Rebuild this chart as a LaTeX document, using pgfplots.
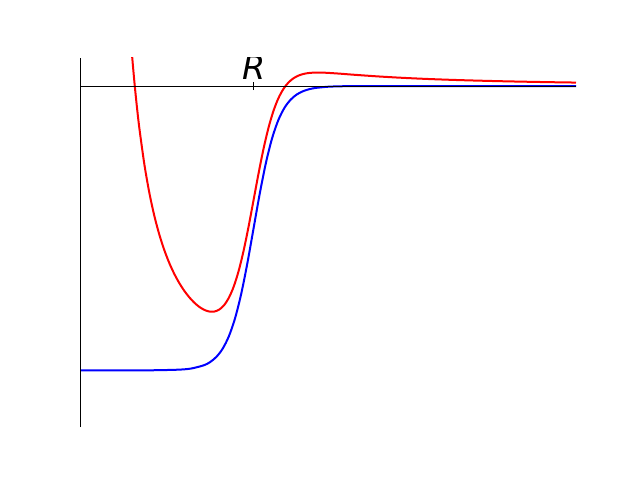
\documentclass[border=0pt]{standalone}
\usepackage{pgfplots}
\pgfplotsset{compat=1.18}
\usepackage{fontspec}
\newfontfamily\dejavu{DejaVu Sans}
\begin{document}
\begin{tikzpicture}
\useasboundingbox (0,0) rectangle (480pt,360pt);
\begin{axis}[
  at={(60pt,39.6pt)}, anchor=south west,
  scale only axis, width=372pt, height=277.2pt,
  xmin=0, xmax=10, ymin=-1.2, ymax=0.1,
  axis x line=middle, axis y line=left,
  axis line style={-, line width=0.6pt, black},
  axis on top,
  xtick={3.5}, xticklabels={}, xtick align=center,
  major tick length=6pt,
  every tick/.style={black, line width=0.6pt},
  ytick=\empty,
  clip=true,
]
\addplot[blue, line width=1.5pt, smooth] coordinates {
(0,-1) (0.5,-1) (1,-0.99995) (1.5,-0.99966) (2.0,-0.99753) (2.25,-0.99331)
(2.5,-0.98201) (2.625,-0.97070) (2.75,-0.95257) (2.875,-0.92414) (3.0,-0.88080)
(3.125,-0.81757) (3.25,-0.73106) (3.375,-0.62246) (3.5,-0.5) (3.625,-0.37754)
(3.75,-0.26894) (3.875,-0.18243) (4.0,-0.11920) (4.125,-0.07586) (4.25,-0.04743)
(4.375,-0.02930) (4.5,-0.01799) (4.625,-0.01099) (4.75,-0.00669) (5.0,-0.00247)
(5.25,-0.00091) (5.5,-0.00034) (6,-0.00005) (7,0) (8,0) (9,0) (10,0)
};
\addplot[red, line width=1.5pt, smooth] coordinates {
(0.95,0.3518) (1.0,0.2200) (1.05,0.1066) (1.1,0.0083) (1.15,-0.0775)
(1.2,-0.1527) (1.3,-0.2780) (1.4,-0.3774) (1.5,-0.4575) (1.6,-0.5229)
(1.7,-0.5771) (1.8,-0.6224) (1.9,-0.6604) (2.0,-0.6925) (2.1,-0.7197)
(2.2,-0.7424) (2.3,-0.7612) (2.4,-0.7761) (2.5,-0.7868) (2.6,-0.7929)
(2.7,-0.7935) (2.8,-0.7871) (2.9,-0.7718) (3.0,-0.7452) (3.1,-0.7050)
(3.2,-0.6494) (3.3,-0.5780) (3.4,-0.4932) (3.5,-0.4004) (3.6,-0.3072)
(3.7,-0.2209) (3.8,-0.1470) (3.9,-0.0878) (4.0,-0.0430) (4.1,-0.0106)
(4.2,0.0119) (4.3,0.0268) (4.4,0.0364) (4.5,0.0422) (4.6,0.0456)
(4.7,0.0470) (4.8,0.0475) (4.9,0.0471) (5.0,0.0463) (5.25,0.0434)
(5.5,0.0400) (6.0,0.0339) (6.5,0.0289) (7.0,0.0249) (7.5,0.0217)
(8.0,0.0191) (8.5,0.0169) (9.0,0.0151) (9.5,0.0135) (10.0,0.0122)
};
\node[anchor=base, yshift=5.25pt, font=\dejavu\itshape\fontsize{25}{25}\selectfont, inner sep=0pt] at (axis cs:3.5,0) {R};
\end{axis}
\end{tikzpicture}
\end{document}
